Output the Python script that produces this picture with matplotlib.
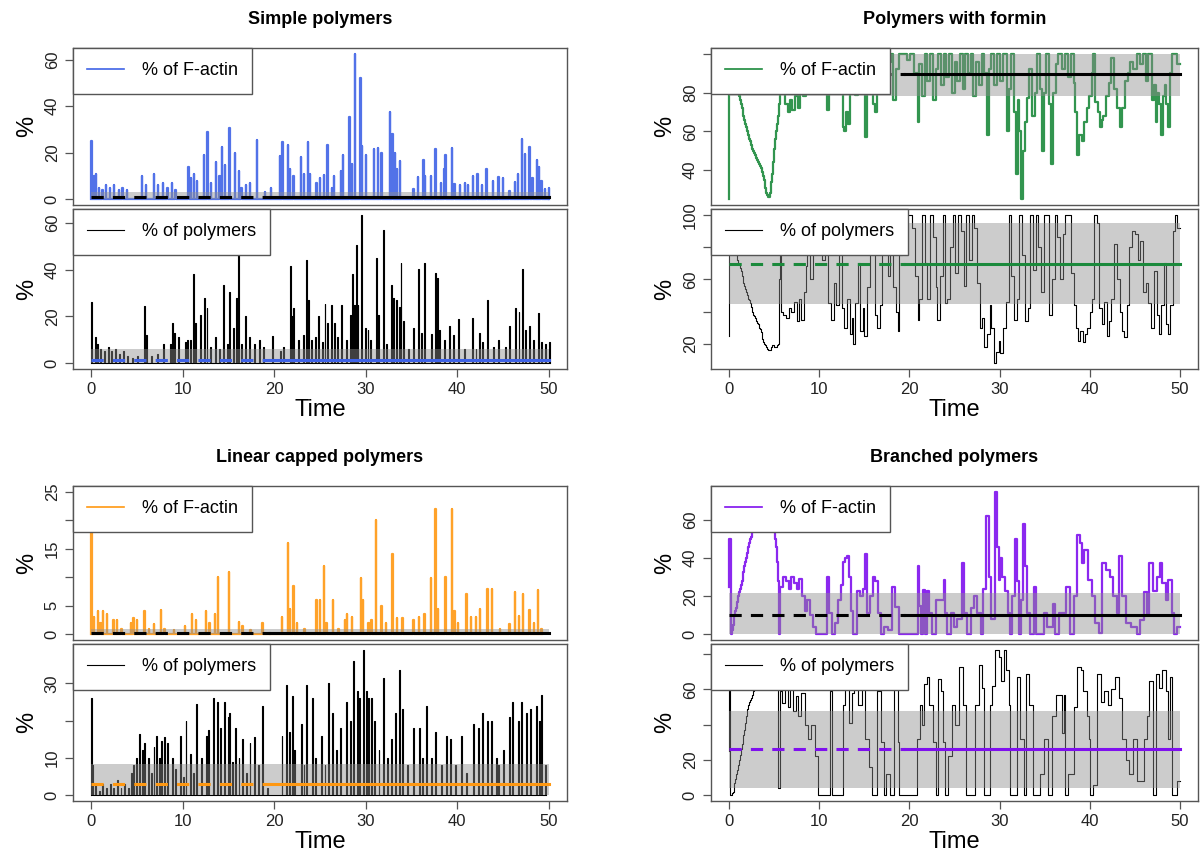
import numpy as np
import matplotlib
matplotlib.use("Agg")
import matplotlib.pyplot as plt

plt.rcParams['font.family'] = ['Liberation Sans', 'DejaVu Sans']

# ---------------------------------------------------------
# data (time, value)
# ---------------------------------------------------------

# simple polymers, % of F-actin (spikes: time, height)
simple_factin = [(0, 25), (0.3, 10), (0.5, 11), (0.8, 5), (1.2, 4), (1.6, 6), (2.0, 5), (2.5, 6),
                 (3.0, 4), (3.4, 5), (3.9, 4), (5.5, 10), (6.0, 6), (6.8, 11), (7.3, 6), (7.8, 7),
                 (8.3, 5), (8.8, 7), (9.2, 4), (10.6, 14), (10.9, 9), (11.2, 11), (11.5, 8), (12.3, 19),
                 (12.7, 29), (13.1, 7), (13.6, 16), (14.0, 10), (14.3, 22.5), (14.6, 14.5), (15.1, 30.5),
                 (15.7, 20), (16.1, 12), (16.4, 5), (16.9, 6), (17.3, 7), (18.1, 25.5), (19.0, 3),
                 (19.6, 5), (20.6, 18.5), (20.9, 24.5), (21.5, 23.5), (21.7, 13), (22.1, 10), (22.9, 18),
                 (23.2, 11), (23.7, 24.5), (23.9, 11), (24.6, 7), (25.0, 9), (25.4, 10.5), (25.8, 23.5),
                 (26.3, 5), (26.5, 10), (27.3, 12), (27.5, 19), (28.2, 35.5), (28.5, 15), (28.8, 62.5),
                 (29.4, 52), (29.6, 23), (30.0, 19), (30.9, 21.5), (31.3, 22), (31.7, 20), (32.6, 37.5),
                 (32.9, 28), (33.2, 20), (33.4, 13), (33.7, 16.5), (35.2, 4.5), (35.7, 9.5), (36.3, 17),
                 (36.5, 10), (37.1, 10), (37.6, 21.5), (38.2, 7), (38.6, 13), (38.7, 19), (39.4, 22),
                 (39.7, 6.5), (40.3, 6), (40.8, 7), (41.2, 6), (41.7, 10), (42.2, 11), (42.7, 6),
                 (43.2, 13), (43.9, 8), (44.5, 9.5), (45.0, 9), (45.7, 3.5), (46.3, 7.5), (46.6, 11),
                 (47.1, 26), (47.4, 19.5), (47.9, 22.5), (48.2, 9), (48.7, 17), (48.9, 14), (49.2, 8),
                 (49.6, 4.5), (50.0, 5)]

# simple polymers, % of polymers (spikes)
simple_poly = [(0, 26), (0.4, 11), (0.6, 8), (1.0, 6), (1.4, 5), (1.8, 7), (2.2, 5), (2.6, 6), (3.0, 4),
               (3.5, 5), (3.9, 3), (4.5, 2), (5.0, 3), (5.8, 24.5), (6.0, 12), (6.5, 3), (7.2, 4), (7.8, 8),
               (8.6, 8), (8.8, 17), (9.0, 13), (9.5, 11), (10.2, 9), (10.5, 10), (10.8, 10), (11.1, 38),
               (11.3, 17), (11.9, 20.5), (12.3, 28), (12.6, 23.5), (13.0, 7), (13.5, 11), (14.0, 6),
               (14.4, 33.5), (14.8, 8), (15.1, 30.5), (15.5, 15), (15.8, 28), (16.0, 48), (16.4, 8),
               (16.8, 20), (17.2, 11), (17.8, 8), (18.3, 10), (18.8, 7), (19.8, 11.5), (20.6, 5), (21.0, 7),
               (21.7, 41.5), (21.9, 20), (22.1, 23.5), (22.6, 10), (23.1, 12), (23.5, 44), (23.7, 27),
               (24.0, 10), (24.5, 11), (24.8, 20), (25.2, 9), (25.5, 25.5), (25.8, 17), (26.2, 25),
               (26.5, 17), (26.9, 11), (27.3, 25), (27.8, 10), (28.3, 20.5), (28.5, 38), (28.7, 25),
               (28.9, 50.5), (29.1, 25), (29.5, 63.5), (29.9, 15), (30.2, 14), (30.5, 10), (31.1, 45),
               (31.3, 20.5), (31.9, 57), (32.2, 8), (32.8, 33.5), (33.0, 28), (33.3, 27), (33.6, 24),
               (33.8, 43), (34.1, 18), (34.6, 6), (35.2, 15), (35.7, 40.5), (36.0, 13), (36.4, 43),
               (37.1, 12.5), (37.6, 38.5), (37.8, 36.5), (38.0, 14), (38.6, 10), (39.1, 16), (39.5, 12),
               (40.1, 19), (40.7, 6), (41.6, 19.5), (42.0, 6), (42.4, 13), (42.7, 9), (43.3, 27),
               (43.9, 7), (44.5, 10), (45.2, 7), (45.7, 16), (46.3, 23.5), (46.7, 22), (47.1, 40.5),
               (47.4, 14), (47.9, 16), (48.3, 10), (48.8, 21.5), (49.2, 9), (49.6, 8), (50.0, 9)]

# polymers with formin, % of F-actin
formin_factin = [(0, 25), (0.05, 100), (0.3, 99), (0.5, 97), (0.6, 92), (0.7, 88), (0.8, 85), (0.9, 82),
                 (1.0, 80), (1.1, 78), (1.2, 76), (1.3, 74), (1.4, 72), (1.5, 71), (1.6, 68), (1.7, 66),
                 (1.8, 64), (1.9, 62), (2.0, 60), (2.1, 58), (2.2, 56), (2.3, 55), (2.4, 53), (2.5, 52),
                 (2.6, 51), (2.7, 50), (2.8, 49), (2.9, 48), (3.0, 46), (3.1, 45), (3.2, 44), (3.3, 43),
                 (3.4, 42), (3.5, 41), (3.6, 40), (3.7, 39), (3.8, 37), (3.9, 35), (4.0, 31), (4.1, 28),
                 (4.2, 27), (4.3, 26), (4.4, 26), (4.5, 28), (4.6, 31), (4.7, 34), (4.8, 38), (4.9, 44),
                 (5.0, 51), (5.1, 56), (5.2, 60), (5.3, 64), (5.4, 68), (5.5, 74), (5.6, 81), (5.7, 88),
                 (5.8, 95), (6.0, 88), (6.2, 74),
                 (6.5, 70), (6.8, 76), (7.0, 71), (7.3, 78), (7.6, 72), (7.9, 80), (8.2, 78), (8.5, 96),
                 (8.8, 86), (9.1, 100), (9.4, 92), (9.8, 100), (10.2, 96), (10.6, 100), (10.9, 71),
                 (11.1, 100), (11.5, 92), (11.9, 100), (12.3, 100), (12.6, 62), (12.8, 60), (13.0, 70),
                 (13.2, 64), (13.4, 80), (13.7, 100), (14.0, 79), (14.3, 95), (14.7, 82), (15.1, 57),
                 (15.3, 90), (15.6, 100), (16.0, 74), (16.2, 70), (16.4, 100), (16.8, 92), (17.2, 100),
                 (17.6, 96), (18.0, 100), (18.2, 76), (18.5, 92), (18.9, 100), (19.3, 100), (19.7, 97),
                 (20.1, 100), (20.5, 90), (20.9, 65), (21.1, 95), (21.4, 78), (21.7, 100), (22.0, 86),
                 (22.3, 100), (22.6, 76), (22.9, 92), (23.2, 100), (23.5, 84), (23.8, 100), (24.1, 88),
                 (24.4, 100), (24.7, 80), (25.0, 96), (25.3, 86), (25.6, 100), (25.9, 82), (26.2, 100),
                 (26.5, 90), (26.8, 100), (27.1, 78), (27.4, 96), (27.7, 84), (28.0, 100), (28.3, 90),
                 (28.6, 58), (28.8, 92), (29.1, 100), (29.4, 84), (29.7, 100), (30.0, 86), (30.4, 100),
                 (30.8, 60), (31.0, 82), (31.3, 100), (31.6, 70), (31.8, 38), (32.0, 76), (32.2, 60),
                 (32.4, 25), (32.6, 50), (32.8, 65), (33.0, 77), (33.3, 92), (33.6, 68), (33.9, 80),
                 (34.2, 100), (34.5, 82), (34.7, 50), (34.9, 80), (35.2, 100), (35.5, 74), (35.7, 43),
                 (35.9, 80), (36.2, 95), (36.5, 100), (36.9, 92), (37.3, 100), (37.6, 88), (37.9, 100),
                 (38.2, 85), (38.4, 70), (38.6, 48), (38.8, 58), (39.1, 55), (39.4, 65), (39.7, 72),
                 (39.9, 78), (40.2, 90), (40.4, 100), (40.6, 75), (40.9, 70), (41.1, 62), (41.3, 66),
                 (41.5, 68), (41.8, 78), (42.1, 85), (42.4, 98), (42.7, 82), (43.0, 72), (43.3, 62),
                 (43.6, 72), (43.9, 86), (44.2, 90), (44.5, 96), (44.8, 92), (45.2, 100), (45.6, 95),
                 (45.9, 100), (46.2, 86), (46.5, 100), (46.9, 76), (47.1, 84), (47.3, 65), (47.5, 80),
                 (47.7, 74), (47.9, 58), (48.1, 78), (48.3, 84), (48.5, 74), (48.7, 62), (48.9, 90),
                 (49.1, 100), (49.4, 100), (49.7, 95), (50.0, 95)]

# polymers with formin, % of polymers
formin_poly = [(0, 25), (0.05, 100), (0.5, 88), (0.6, 84), (0.7, 79), (0.8, 75), (0.9, 72), (1.0, 70),
               (1.1, 69), (1.2, 67), (1.3, 65), (1.4, 62), (1.5, 60), (1.6, 58), (1.7, 56), (1.8, 54),
               (1.9, 52), (2.0, 50), (2.1, 48), (2.2, 47), (2.3, 45), (2.4, 43), (2.5, 41), (2.6, 40),
               (2.7, 38), (2.8, 37), (2.9, 36), (3.0, 34), (3.1, 33), (3.2, 32), (3.3, 30), (3.4, 29),
               (3.5, 27), (3.6, 25), (3.7, 23), (3.8, 21), (3.9, 20), (4.0, 19), (4.1, 18), (4.2, 17),
               (4.3, 16), (4.4, 16), (4.5, 16), (4.6, 17), (4.7, 18), (4.8, 19), (4.9, 19), (5.0, 18),
               (5.1, 18), (5.2, 18), (5.3, 19), (5.4, 20), (5.5, 60), (5.6, 100), (5.8, 40), (6.0, 38),
               (6.3, 36), (6.6, 42),
               (6.9, 40), (7.2, 46), (7.5, 34), (7.8, 48), (8.0, 35), (8.3, 52), (8.5, 68), (8.7, 75),
               (9.0, 60), (9.3, 80), (9.6, 100), (10.0, 100), (10.3, 72), (10.6, 100), (11.0, 45),
               (11.3, 35), (11.6, 58), (11.9, 44), (12.2, 100), (12.5, 42), (12.8, 30), (13.1, 48),
               (13.4, 26), (13.6, 36), (13.8, 20), (14.0, 45), (14.3, 70), (14.5, 28), (14.8, 42),
               (15.0, 25), (15.3, 55), (15.6, 100), (15.9, 80), (16.2, 38), (16.4, 30), (16.7, 44),
               (17.0, 100), (17.3, 90), (17.6, 62), (17.9, 100), (18.2, 55), (18.5, 40), (18.7, 28),
               (18.9, 75), (19.2, 100), (19.6, 100), (20.0, 100), (20.3, 92), (20.6, 62), (20.9, 35),
               (21.1, 48), (21.4, 100), (21.7, 70), (22.0, 48), (22.3, 100), (22.6, 86), (22.9, 55),
               (23.1, 35), (23.4, 62), (23.7, 100), (24.0, 45), (24.2, 48), (24.5, 80), (24.8, 100),
               (25.1, 64), (25.4, 100), (25.7, 90), (26.0, 56), (26.3, 100), (26.6, 72), (26.9, 100),
               (27.2, 92), (27.5, 58), (27.8, 30), (28.0, 36), (28.3, 18), (28.6, 26), (28.9, 44),
               (29.1, 30), (29.4, 8), (29.6, 15), (29.9, 22), (30.1, 14), (30.4, 30), (30.7, 46),
               (31.0, 100), (31.3, 62), (31.6, 35), (31.9, 48), (32.2, 100), (32.5, 75), (32.8, 34),
               (33.1, 42), (33.4, 100), (33.7, 66), (34.0, 100), (34.3, 80), (34.6, 52), (34.9, 100),
               (35.2, 100), (35.5, 38), (35.8, 60), (36.1, 100), (36.4, 86), (36.7, 60), (37.0, 88),
               (37.3, 100), (37.6, 100), (37.9, 64), (38.2, 44), (38.5, 30), (38.7, 22), (38.9, 28),
               (39.2, 21), (39.5, 26), (39.7, 30), (40.0, 40), (40.3, 48), (40.5, 100), (40.8, 95),
               (41.0, 42), (41.3, 32), (41.6, 46), (41.9, 25), (42.1, 34), (42.4, 48), (42.7, 82),
               (43.0, 60), (43.3, 40), (43.6, 28), (43.8, 24), (44.1, 44), (44.4, 80), (44.7, 90),
               (45.0, 88), (45.3, 72), (45.6, 84), (45.9, 52), (46.2, 58), (46.5, 45), (46.8, 30),
               (47.1, 65), (47.4, 38), (47.7, 26), (47.9, 44), (48.2, 70), (48.4, 32), (48.7, 26),
               (48.9, 44), (49.2, 90), (49.4, 100), (49.7, 92), (50.0, 92)]

# linear capped polymers, % of F-actin (spikes)
capped_factin = [(0, 25), (0.1, 6), (0.3, 3), (0.7, 4), (1.0, 2), (1.3, 4), (1.7, 3.5), (2.4, 2.5),
                 (2.8, 2.5), (3.3, 1), (4.3, 2), (4.6, 2.8), (5.0, 2.5), (5.8, 4), (6.3, 1), (6.8, 1.8),
                 (7.6, 4.2), (8.0, 1), (9.0, 0.8), (10.2, 1.5), (11.0, 3.5), (11.4, 2.5), (12.5, 4),
                 (12.9, 2), (13.5, 3.5), (13.8, 10), (15.0, 11), (16.1, 2.2), (16.5, 1.5), (17.4, 0.8),
                 (18.7, 2), (20.8, 3), (21.5, 16), (21.7, 4.5), (22.1, 8.5), (22.5, 2), (23.3, 1),
                 (24.6, 6), (25.0, 6), (25.4, 12), (25.7, 2), (26.4, 6), (27.0, 1), (27.7, 2.5),
                 (27.9, 3.5), (28.5, 3), (29.5, 9.8), (29.7, 6), (30.3, 2), (30.6, 2.5), (31.1, 20),
                 (31.7, 5), (32.2, 2), (32.9, 14), (33.4, 2.8), (34.0, 2.8), (35.2, 2.5), (35.8, 3),
                 (36.4, 3.5), (37.1, 9.8), (37.6, 22), (37.9, 4.5), (38.7, 10), (39.4, 22), (39.7, 4),
                 (40.1, 2), (41.0, 7), (41.5, 3), (42.0, 3), (42.5, 4.5), (43.3, 8), (43.8, 8),
                 (44.7, 1), (45.7, 1.8), (46.3, 7.5), (46.7, 3.2), (47.2, 7), (47.9, 4.3), (48.4, 2),
                 (48.8, 7.8), (49.2, 1)]

# linear capped polymers, % of polymers (spikes)
capped_poly = [(0, 26), (0.1, 8), (0.4, 3), (0.8, 1), (1.2, 3), (1.6, 2), (2.0, 3), (2.4, 2), (2.8, 4),
               (3.2, 2), (3.6, 3), (4.0, 2), (4.3, 6), (4.6, 8), (4.9, 10), (5.2, 16.5), (5.5, 12),
               (5.8, 14), (6.2, 10), (6.5, 6), (6.8, 13), (7.1, 16), (7.4, 10), (7.6, 14.5), (8.0, 15.5),
               (8.3, 14), (8.8, 10), (9.2, 7), (9.7, 16), (10.0, 5), (10.3, 20), (10.8, 11), (11.1, 6),
               (11.4, 24.5), (12.0, 10), (12.5, 16), (12.8, 17.5), (13.3, 26), (13.7, 25), (14.1, 18),
               (14.5, 25), (14.9, 21), (15.1, 22), (15.4, 9), (15.7, 18), (16.1, 10), (16.5, 15),
               (16.9, 6), (17.3, 14), (17.8, 15.5), (18.2, 8), (18.7, 24), (19.2, 2), (20.8, 16),
               (21.3, 29.5), (21.6, 17), (21.9, 26.5), (22.2, 12), (22.9, 19), (23.2, 8), (23.5, 29.5),
               (24.1, 26), (24.5, 10), (25.1, 16), (25.5, 8), (25.9, 30), (26.3, 22), (26.8, 12),
               (27.2, 18), (27.8, 25), (28.3, 20), (28.6, 36), (29.0, 28), (29.3, 26), (29.7, 39),
               (30.0, 28), (30.3, 26), (30.6, 26), (30.9, 20), (31.4, 12), (31.9, 31.5), (32.3, 10),
               (32.8, 15), (33.2, 22), (33.6, 33.5), (34.0, 23), (34.5, 8), (35.2, 18), (35.8, 18),
               (36.2, 10), (36.6, 24), (37.1, 10), (37.6, 17), (38.2, 8), (38.8, 16), (39.2, 15),
               (39.8, 8), (40.4, 16), (41.0, 6), (41.7, 19), (42.3, 18), (42.7, 22), (43.3, 20),
               (43.7, 20), (44.2, 10), (44.5, 8), (45.0, 12), (45.7, 21), (46.0, 25), (46.6, 20),
               (47.0, 25), (47.5, 22), (48.0, 23), (48.6, 24), (48.9, 20), (49.2, 27), (49.6, 8)]

# branched polymers, % of F-actin
branched_factin = [(0, 25), (0.05, 50), (0.2, 0), (0.3, 2), (0.4, 5), (0.5, 8), (0.6, 10), (0.7, 12),
                   (0.8, 14), (0.9, 17), (1.0, 20), (1.1, 22), (1.2, 24), (1.3, 26), (1.4, 28), (1.5, 30),
                   (1.6, 33), (1.7, 36), (1.8, 38), (1.9, 40), (2.0, 43), (2.1, 46), (2.2, 48), (2.3, 50),
                   (2.4, 51), (2.5, 52), (2.6, 54), (2.7, 56), (2.8, 58), (2.9, 60), (3.0, 62), (3.2, 64),
                   (3.5, 66), (4.0, 66), (4.5, 60), (4.8, 57), (5.0, 54), (5.1, 50), (5.2, 46), (5.3, 38),
                   (5.4, 28), (5.5, 0), (5.7, 25), (6.0, 30), (6.3, 28), (6.6, 24), (6.9, 30), (7.2, 27),
                   (7.5, 24), (7.8, 29), (8.1, 20), (8.4, 12), (8.7, 18), (9.0, 10), (9.3, 4), (9.6, 0),
                   (10.2, 0), (10.6, 0), (10.9, 30), (11.1, 11), (11.4, 0), (11.8, 6), (12.1, 18),
                   (12.4, 26), (12.6, 38), (12.9, 40), (13.1, 41), (13.3, 30), (13.5, 12), (13.8, 0),
                   (14.2, 23), (14.5, 20), (14.8, 24), (15.1, 42), (15.3, 11), (15.6, 20), (16.0, 30),
                   (16.2, 28), (16.5, 11), (16.8, 0), (17.2, 4), (17.6, 2), (18.1, 25), (18.4, 14.6),
                   (18.9, 0), (19.5, 0), (20.0, 0), (20.6, 0), (20.9, 35.7), (21.1, 15), (21.3, 0),
                   (21.5, 23.4), (21.7, 0), (22.0, 23), (22.2, 11), (22.5, 0), (22.9, 18), (23.3, 18),
                   (23.8, 28.7), (24.0, 11), (24.2, 0), (24.6, 11), (24.9, 4), (25.3, 8), (25.8, 37.5),
                   (26.0, 11), (26.4, 0), (26.8, 14), (27.2, 20), (27.5, 11), (27.9, 0), (28.2, 24),
                   (28.5, 62), (28.8, 30), (29.1, 8), (29.5, 75), (29.7, 46), (29.9, 28.7), (30.0, 40),
                   (30.3, 30), (30.6, 23), (30.9, 11), (31.1, 0), (31.4, 20), (31.7, 50), (31.9, 28),
                   (32.1, 0), (32.4, 18), (32.6, 58), (32.8, 36), (33.0, 11), (33.4, 0), (33.8, 25),
                   (34.0, 0), (34.5, 0), (34.9, 11), (35.3, 4), (35.9, 16), (36.1, 0), (36.6, 11),
                   (37.0, 11), (37.4, 25), (37.8, 0), (38.2, 20), (38.6, 52), (38.9, 48), (39.1, 37.5),
                   (39.4, 44.5), (39.8, 28.7), (40.2, 20), (40.6, 6), (41.0, 0.5), (41.4, 37.5),
                   (41.8, 34), (42.2, 30), (42.6, 20), (43.0, 11), (43.2, 41), (43.6, 20), (44.0, 6),
                   (44.6, 4), (45.2, 0), (45.6, 7.6), (46.0, 22), (46.3, 10), (46.6, 37.5), (47.0, 23),
                   (47.4, 30), (47.8, 37.5), (48.0, 27), (48.4, 18), (48.7, 28.7), (49.1, 11), (49.3, 0),
                   (49.7, 4), (50.0, 4)]

# branched polymers, % of polymers
branched_poly = [(0, 25), (0.05, 80), (0.15, 0), (0.2, 0), (0.3, 1), (0.4, 2), (0.5, 4), (0.6, 7),
                 (0.7, 9), (0.8, 12), (0.9, 14), (1.0, 17), (1.1, 20), (1.2, 23), (1.3, 26), (1.4, 29),
                 (1.5, 32), (1.6, 34), (1.7, 37), (1.8, 41), (1.9, 45), (2.0, 49), (2.1, 51), (2.2, 53),
                 (2.3, 54), (2.4, 55), (2.5, 56), (2.6, 57), (2.7, 59), (2.8, 60), (3.3, 66), (4.0, 70),
                 (4.8, 72), (5.3, 68), (5.45, 4),
                 (5.7, 59), (5.9, 52), (6.2, 60), (6.5, 50), (6.8, 62), (7.1, 48), (7.4, 56), (7.7, 45),
                 (8.0, 58), (8.4, 40), (8.8, 31.6), (9.1, 40), (9.5, 22), (9.9, 0), (10.9, 0), (11.2, 59),
                 (11.4, 0), (12.2, 0), (12.6, 51), (12.9, 60), (13.3, 41), (13.6, 58), (13.9, 63),
                 (14.3, 51), (14.7, 63), (15.1, 31.6), (15.5, 16), (15.9, 0), (16.4, 59), (16.8, 30),
                 (17.2, 0), (17.4, 12), (17.8, 0), (18.3, 60), (18.7, 30), (18.9, 0), (20.6, 0),
                 (20.8, 31.6), (21.2, 51), (21.4, 40), (21.6, 63), (21.9, 67), (22.2, 51), (22.6, 30),
                 (23.0, 0), (23.2, 66), (23.5, 59), (23.7, 30), (23.9, 0), (24.3, 22), (24.7, 51),
                 (25.0, 40), (25.5, 72.7), (25.9, 51), (26.3, 0), (26.9, 0), (27.3, 51), (27.7, 73.6),
                 (28.1, 61), (28.3, 0), (28.7, 0), (28.9, 51), (29.2, 62), (29.5, 82.4), (29.9, 78.5),
                 (30.2, 65), (30.5, 82.4), (30.7, 70.7), (31.0, 51), (31.2, 0), (31.6, 0), (31.9, 66.8),
                 (32.3, 31.6), (32.7, 0), (32.9, 68.8), (33.3, 51), (33.7, 0), (34.0, 0), (34.5, 12),
                 (34.9, 31.6), (35.2, 31.6), (35.4, 0), (35.8, 45), (36.3, 57), (36.9, 35.5), (37.1, 57),
                 (37.2, 0), (37.6, 12), (38.2, 50), (38.6, 72.7), (39.0, 70.7), (39.3, 59), (39.7, 45),
                 (39.9, 31.6), (40.0, 0), (40.4, 6), (40.8, 68.8), (41.2, 53), (41.6, 59), (42.0, 51),
                 (42.4, 60), (42.8, 66.8), (43.2, 55), (43.6, 31.6), (44.0, 20), (44.4, 12), (44.8, 31.6),
                 (45.2, 8), (45.6, 8), (46.0, 31.6), (46.3, 45), (46.6, 65), (47.0, 0), (47.3, 68.8),
                 (47.7, 61), (48.0, 70.7), (48.4, 59), (48.7, 31.6), (48.9, 66.8), (49.1, 0), (49.5, 0),
                 (49.7, 8), (50.0, 8)]

# mean lines and shaded ranges: [upper, lower] per panel
simple_mean = [0.8, 1.2]
simple_band = [(0, 3), (0, 6)]
formin_mean = [89.5, 69.5]
formin_band = [(78, 100), (44.5, 95)]
capped_mean = [0.25, 3]
capped_band = [(0, 1), (0, 8.5)]
branched_mean = [10, 26]
branched_band = [(0, 21.5), (4, 48)]

titles = ["Simple polymers", "Polymers with formin", "Linear capped polymers", "Branched polymers"]
colors = ["#3f63e6", "#1b8a3c", "#ff9812", "#7f10ee"]

# y ticks and the labels R kept
yticks = [
    ([0, 20, 40, 60], ["0", "20", "40", "60"]),
    ([0, 20, 40, 60], ["0", "20", "40", "60"]),
    ([40, 60, 80, 100], ["40", "60", "80", ""]),
    ([20, 40, 60, 80, 100], ["20", "", "60", "", "100"]),
    ([0, 5, 10, 15, 20, 25], ["0", "5", "", "15", "", "25"]),
    ([0, 10, 20, 30], ["0", "10", "", "30"]),
    ([0, 20, 40, 60], ["0", "20", "40", "60"]),
    ([0, 20, 40, 60, 80], ["0", "20", "", "60", ""]),
]

t_split = 19.5
t_end = 50


# ---------------------------------------------------------
# helpers
# ---------------------------------------------------------

def spikes(pairs, w):
    xs, ys = [], []
    for t, h in sorted(pairs):
        xs += [t, t, t + w, t + w]
        ys += [0, h, h, 0]
    return xs, ys


def unzip(pairs):
    pairs = sorted(pairs)
    return [p[0] for p in pairs], [p[1] for p in pairs]


W, H = 1202, 861


def px_axes(fig, left, top, right, bottom):
    return fig.add_axes([left / W, 1 - bottom / H, (right - left) / W, (bottom - top) / H])


def style_axes(ax, ys, ticks, show_x):
    lo, hi = min(ys), max(ys)
    pad = 0.04 * (hi - lo)
    ax.set_ylim(lo - pad, hi + pad)
    ax.set_xlim(-2, 52)
    for s in ax.spines.values():
        s.set_color("#555555")
        s.set_linewidth(1.0)
    ax.set_yticks(ticks[0])
    ax.set_yticklabels(ticks[1], fontsize=12, color="#222222")
    for lab in ax.get_yticklabels():
        lab.set_rotation(90)
        lab.set_va("center")
    ax.tick_params(axis="both", direction="out", length=5.5, width=0.9, color="#555555", pad=4)
    if show_x:
        ax.set_xticks([0, 10, 20, 30, 40, 50])
        ax.set_xticklabels(["0", "10", "20", "30", "40", "50"], fontsize=12, color="#222222")
        ax.set_xlabel("Time", fontsize=17, labelpad=1)
    else:
        ax.set_xticks([])
    ax.set_ylabel("%", fontsize=17, labelpad=5)


def draw(ax, xs, ys, color, lw, alpha, steps, mean, band, mean_color, mean_lw,
         label, legend_color, legend_lw):
    ax.plot(xs, ys, color=color, lw=lw, alpha=alpha, zorder=1,
            drawstyle="steps-post" if steps else "default")
    ax.fill_between([0, t_end], band[0], band[1], color="#8e8e8e", alpha=0.45, lw=0, zorder=2)
    ax.plot([0, t_split], [mean, mean], color=mean_color, lw=mean_lw, ls=(0, (4, 3)), zorder=3)
    ax.plot([t_split, t_end], [mean, mean], color=mean_color, lw=mean_lw, zorder=3)
    h, = ax.plot([], [], color=legend_color, lw=legend_lw)
    leg = ax.legend([h], [label], loc="upper left", bbox_to_anchor=(0, 1), borderaxespad=0,
                    fancybox=False, framealpha=1, edgecolor="#555555", fontsize=13,
                    handlelength=2.0, handletextpad=1.0, borderpad=0.8)
    leg.get_frame().set_linewidth(1.0)
    leg.set_zorder(10)


# ---------------------------------------------------------
# figure
# ---------------------------------------------------------

fig = plt.figure(figsize=(W / 100, H / 100), dpi=100)

cols = [(73, 567), (711, 1198)]
rows = [(48, 205, 209, 369), (486, 640, 644, 801)]
title_y = [19, 458]

panels = [
    (simple_factin, simple_poly, simple_mean, simple_band, "spike", 0, 0),
    (formin_factin, formin_poly, formin_mean, formin_band, "line", 0, 1),
    (capped_factin, capped_poly, capped_mean, capped_band, "spike", 1, 0),
    (branched_factin, branched_poly, branched_mean, branched_band, "line", 1, 1),
]

for i, (fa, po, mean, band, kind, r, c) in enumerate(panels):
    left, right = cols[c]
    t1, b1, t2, b2 = rows[r]
    ax1 = px_axes(fig, left, t1, right, b1)
    ax2 = px_axes(fig, left, t2, right, b2)

    if kind == "spike":
        x1, y1 = spikes(fa, 0.03)
        x2, y2 = spikes(po, 0.1)
        steps = False
    else:
        x1, y1 = unzip(fa)
        x2, y2 = unzip(po)
        steps = True

    draw(ax1, x1, y1, colors[i], 1.6, 0.9, steps, mean[0], band[0], "black", 2.2,
         "% of F-actin", colors[i], 1.2)
    draw(ax2, x2, y2, "black", 0.8, 1.0, steps, mean[1], band[1], colors[i], 2.2,
         "% of polymers", "black", 0.8)
    style_axes(ax1, y1, yticks[2 * i], False)
    style_axes(ax2, y2, yticks[2 * i + 1], True)

    fig.text((left + right) / 2 / W, 1 - title_y[r] / H, titles[i], ha="center", va="center",
             fontsize=13, fontweight="bold")

fig.savefig("out.png", dpi=100)
